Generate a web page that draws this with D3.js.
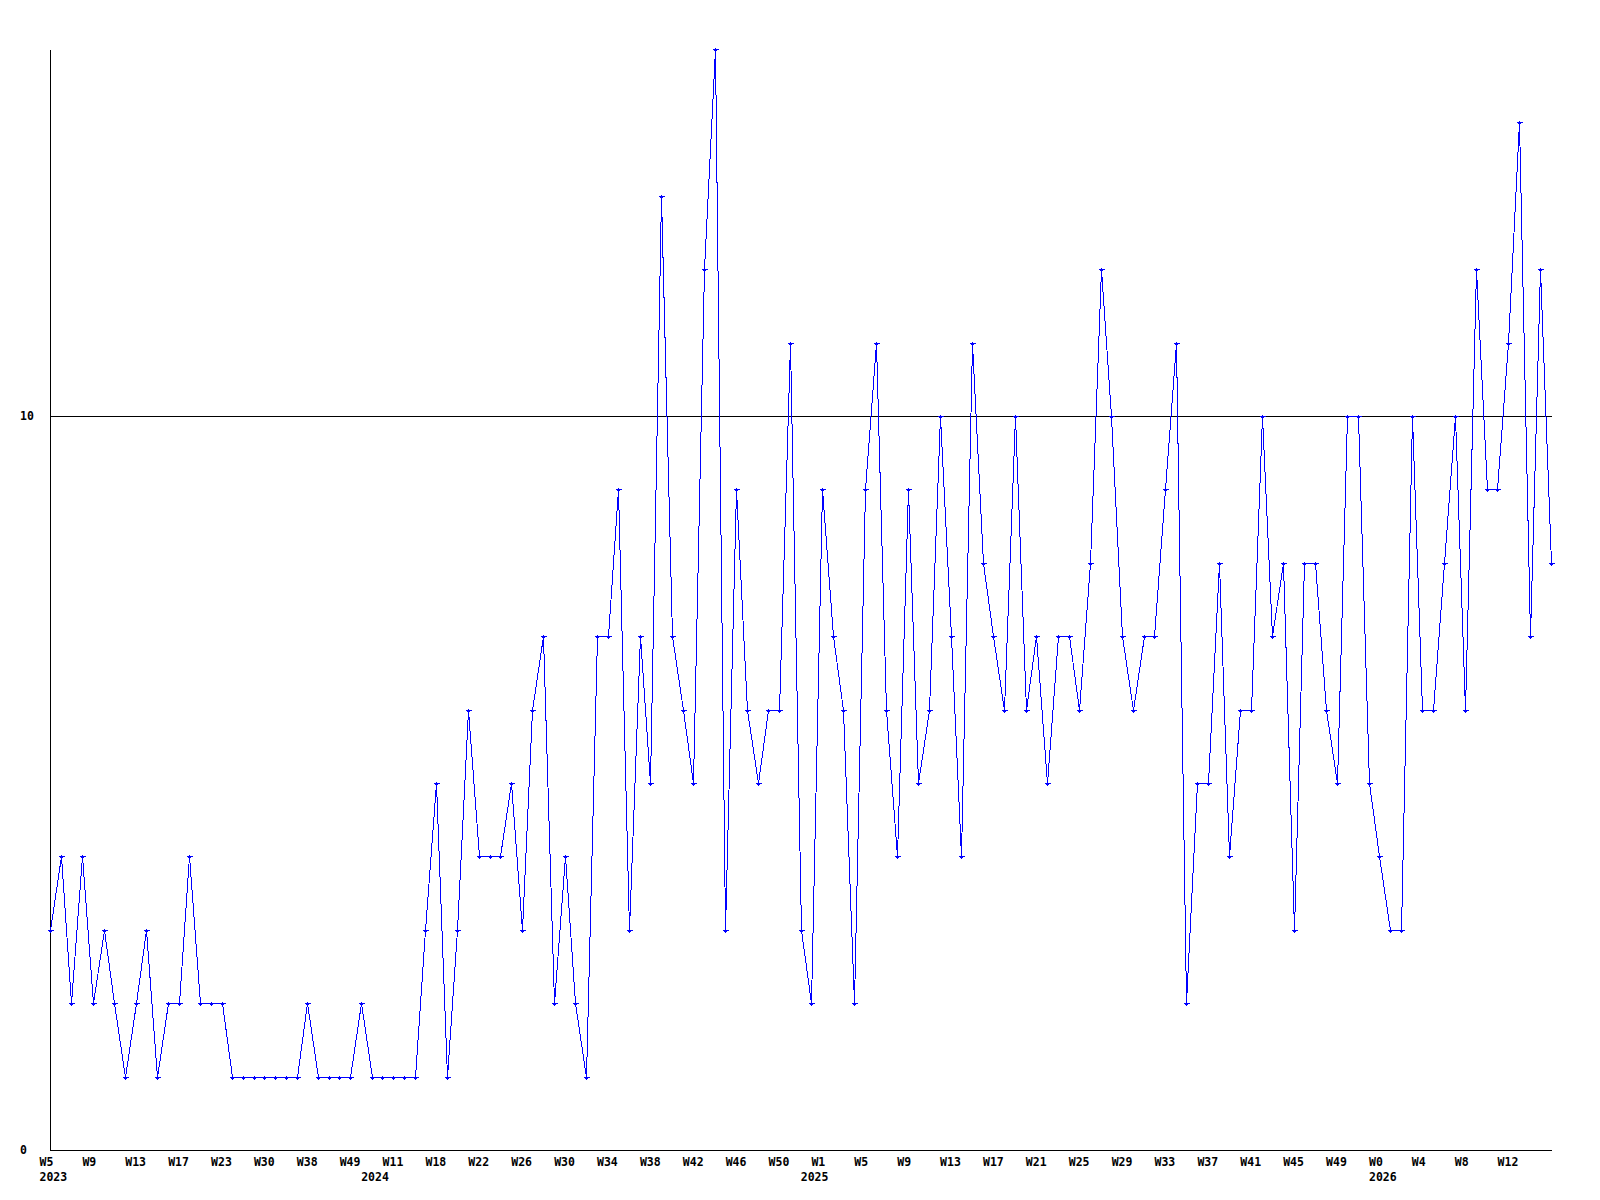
<!DOCTYPE html>
<html>
<head>
<meta charset="utf-8">
<script src="https://cdn.jsdelivr.net/npm/d3@7"></script>
<style>
  html, body { margin: 0; padding: 0; background: #ffffff; }
  svg { display: block; }
  text { font-family: "DejaVu Sans Mono", "Liberation Mono", monospace; font-weight: bold; font-size: 11.5px; fill: #000; }
</style>
</head>
<body>
<svg id="chart" width="1600" height="1200"></svg>
<script>
// Weekly values (one per plotted week)
const values = [
  3,4,2,4,2,3,2,1,2,3,1,2,2,4,2,2,2,1,1,1,1,1,1,1,2,
  1,1,1,1,2,1,1,1,1,1,3,5,1,3,6,4,4,4,5,3,6,7,2,4,
  2,1,7,7,9,3,7,5,13,7,6,5,12,15,3,9,6,5,6,6,11,3,2,9,
  7,6,2,9,11,6,4,9,5,6,10,7,4,11,8,7,6,10,6,7,5,7,7,6,8,
  12,10,7,6,7,7,9,11,2,5,5,8,4,6,6,10,7,8,3,8,8,6,5,10,
  10,5,4,3,3,10,6,6,8,10,6,12,9,9,11,14,7,12,8
];
// Week tick labels, one every 4th week
const weekTicks = ["W5","W9","W13","W17","W23","W30","W38","W49","W11","W18","W22","W26",
  "W30","W34","W38","W42","W46","W50","W1","W5","W9","W13","W17","W21","W25","W29","W33",
  "W37","W41","W45","W49","W0","W4","W8","W12"];
const tickEvery = 4;
// Year labels and the index of the first week of each year
const yearTicks = ["2023","2024","2025","2026"];
const yearStart = [0,30,71,124];
// Labelled y values and reference line
const yTicks = [0,10];
const refLine = 10;

const svg = d3.select("#chart");
const x = d3.scaleLinear().domain([0, values.length - 1]).range([50, 1551]);
const y = d3.scaleLinear().domain([0, 15]).range([1150, 49]);
const px = v => Math.round(x(v)) + 0.5;
const py = v => Math.round(y(v)) + 0.5;

// axes
svg.append("line").attr("x1", 50.5).attr("x2", 50.5).attr("y1", 50).attr("y2", py(0))
  .attr("stroke", "#000").attr("shape-rendering", "crispEdges");
svg.append("line").attr("x1", 50).attr("x2", px(values.length - 1)).attr("y1", py(0)).attr("y2", py(0))
  .attr("stroke", "#000").attr("shape-rendering", "crispEdges");
svg.append("line").attr("x1", 50).attr("x2", px(values.length - 1)).attr("y1", py(refLine)).attr("y2", py(refLine))
  .attr("stroke", "#000").attr("shape-rendering", "crispEdges");

// y labels
svg.selectAll("text.ylab").data(yTicks).join("text").attr("class", "ylab")
  .attr("x", 20).attr("y", d => y(d)).attr("dy", "0.36em").text(d => d);

// x week labels
svg.selectAll("text.wlab").data(weekTicks).join("text").attr("class", "wlab")
  .attr("x", (d, i) => x(i * tickEvery) - 10.5).attr("y", 1166).text(d => d);
// year labels
svg.selectAll("text.ylb").data(yearTicks).join("text").attr("class", "ylb")
  .attr("x", (d, i) => x(yearStart[i]) - 10.5).attr("y", 1181).text(d => d);

// line
const line = d3.line().x((d, i) => px(i)).y(d => py(d));
svg.append("path").datum(values).attr("d", line).attr("fill", "none")
  .attr("stroke", "#0000ff").attr("stroke-width", 1).attr("shape-rendering", "crispEdges");

// markers
svg.selectAll("path.mk").data(values).join("path").attr("class", "mk")
  .attr("d", (d, i) => {
    const cx = px(i), cy = py(d);
    return `M${cx - 3},${cy}H${cx + 3}M${cx},${cy - 2}V${cy + 2}M${cx - 1},${cy - 1}V${cy + 1}M${cx + 1},${cy - 1}V${cy + 1}`;
  })
  .attr("stroke", "#0000ff").attr("stroke-width", 1).attr("fill", "none")
  .attr("shape-rendering", "crispEdges");
</script>
</body>
</html>
